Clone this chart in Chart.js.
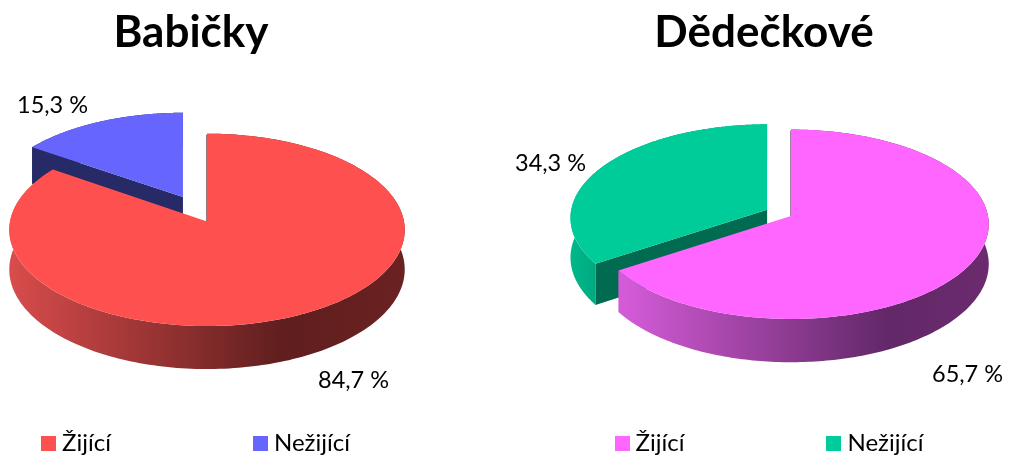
<!DOCTYPE html>
<html><head><meta charset="utf-8">
<script src="https://cdn.jsdelivr.net/npm/chart.js@4"></script>
<style>
html,body{margin:0;padding:0;background:#fff;width:1011px;height:456px;overflow:hidden}
#a,#b{position:absolute;top:0;height:456px;width:620px}
#a{left:0}#b{left:391px}
</style></head><body>
<div id="a"><canvas id="c1"></canvas></div>
<div id="b"><canvas id="c2"></canvas></div>
<script>
const categories = ['Žijící', 'Nežijící'];
const babickyValues = [84.7, 15.3];
const dedeckoveValues = [65.7, 34.3];
const babickyColors = ['#FF5050', '#6666FF'];
const dedeckoveColors = ['#FF66FF', '#00CC99'];
const FONT = 'Lato, Carlito, sans-serif';

function swatch(color) {
  const s = document.createElement('canvas');
  s.width = 15; s.height = 15;
  const g = s.getContext('2d');
  g.fillStyle = color; g.fillRect(0, 0, 15, 15);
  return s;
}
const fmt = v => v.toFixed(1).replace('.', ',') + ' %';

const pie3d = {
  id: 'pie3d',
  afterLayout(chart, args, o) {
    const t = chart.titleBlock, l = chart.legend;
    let d = o.titleCenter - (t.left + t.right) / 2;
    t.left += d; t.right += d;
    d = o.legendCenter - (l.left + l.right) / 2;
    l.left += d; l.right += d;
    l.top += o.legendDrop; l.bottom += o.legendDrop;
  },
  beforeDatasetsDraw(chart, args, o) {
    const ctx = chart.ctx, meta = chart.getDatasetMeta(0);
    const vals = chart.data.datasets[0].data, cols = chart.data.datasets[0].backgroundColor;
    const poly = pts => { ctx.beginPath(); pts.forEach((p, i) => i ? ctx.lineTo(p[0], p[1]) : ctx.moveTo(p[0], p[1])); ctx.closePath(); };
    for (let i = meta.data.length - 1; i >= 0; i--) {
      const el = meta.data[i];
      const a0 = el.startAngle + Math.PI / 2, a1 = el.endAngle + Math.PI / 2;
      const du = o.explode[i][0], dv = o.explode[i][1], w0 = 1 - o.k * dv;
      const at = (th, r, drop) => {
        const v = dv - r * Math.cos(th), w = 1 - o.k * v;
        return [o.cx + o.A * (r * Math.sin(th) / w + du / w0), o.cy + o.B * v / w + (drop ? o.D / w : 0)];
      };
      const N = 240, top = [], bot = [];
      for (let n = 0; n <= N; n++) {
        const th = a0 + (a1 - a0) * n / N;
        top.push(at(th, 1, false)); bot.push(at(th, 1, true));
      }
      const st = o.walls[i];
      const g = ctx.createLinearGradient(st.from, 0, st.to, 0);
      st.stops.forEach(s => g.addColorStop(s[0], s[1]));
      ctx.fillStyle = g;
      poly(top.concat(bot.slice().reverse())); ctx.fill();
      if (i > 0) {
        ctx.fillStyle = st.cut;
        poly([at(a0, 0, false), at(a0, 1, false), at(a0, 1, true), at(a0, 0, true)]);
        ctx.fill();
      }
      ctx.fillStyle = cols[i];
      poly([at(0, 0, false)].concat(top)); ctx.fill();
      if (i === 0) {
        const p = at(a0, 0, false), q = at(a0, 1, false);
        ctx.strokeStyle = st.edge; ctx.lineWidth = 1;
        ctx.beginPath(); ctx.moveTo(p[0] - 0.5, p[1]); ctx.lineTo(q[0] - 0.5, q[1] + 1); ctx.stroke();
      }
    }
    ctx.fillStyle = '#000'; ctx.font = '23.5px ' + FONT;
    ctx.textAlign = 'left'; ctx.textBaseline = 'middle';
    vals.forEach((v, i) => ctx.fillText(fmt(v), o.labels[i][0], o.labels[i][1]));
    return false;
  }
};

function make(id, title, values, colors, geo) {
  return new Chart(document.getElementById(id), {
    type: 'pie',
    data: { labels: categories, datasets: [{ data: values, backgroundColor: colors, borderWidth: 0 }] },
    plugins: [pie3d],
    options: {
      responsive: true, maintainAspectRatio: false, animation: false,
      plugins: {
        title: { display: true, text: title, color: '#000', font: { family: FONT, size: 44, weight: 'bold' }, padding: { top: 6, bottom: 6 } },
        legend: {
          position: 'bottom',
          labels: {
            color: '#000', font: { family: FONT, size: 24 }, padding: 148,
            usePointStyle: true, pointStyleWidth: 3,
            generateLabels: c => categories.map((t, i) => ({ text: t, fillStyle: colors[i], strokeStyle: colors[i], lineWidth: 0, hidden: false, index: i, pointStyle: swatch(colors[i]) }))
          }
        },
        tooltip: { enabled: false },
        pie3d: geo
      }
    }
  });
}

make('c1', 'Babičky', babickyValues, babickyColors, {
  cx: 207, cy: 221.6, A: 197, B: 95.5, k: 0.0857, D: 39.3,
  explode: [[0, 0], [-0.125, -0.263]], titleCenter: 191, legendCenter: 198.5, legendDrop: 9,
  labels: [[318, 380], [17, 105]],
  walls: [
    { from: 10, to: 405, stops: [[0, '#D84C4C'], [0.69, '#601E1E'], [1, '#6B2121']], edge: 'rgba(96,30,30,0.6)' },
    { from: 30, to: 190, stops: [[0, '#262A66'], [1, '#262A66']], cut: '#262A66' }
  ]
});
make('c2', 'Dědečkové', dedeckoveValues, dedeckoveColors, {
  cx: 400, cy: 216, A: 197, B: 94, k: 0.087, D: 39.5,
  explode: [[0, 0], [-0.122, -0.0657]], titleCenter: 373, legendCenter: 381, legendDrop: 9,
  labels: [[541, 374], [124, 163]],
  walls: [
    { from: 232, to: 598, stops: [[0, '#D45BD8'], [0.72, '#622868'], [1, '#6B2B6E']], edge: 'rgba(98,40,104,0.6)' },
    { from: 181, to: 207, stops: [[0, '#00B78A'], [1, '#00A87E']], cut: '#006B50' }
  ]
});
</script>
</body></html>
